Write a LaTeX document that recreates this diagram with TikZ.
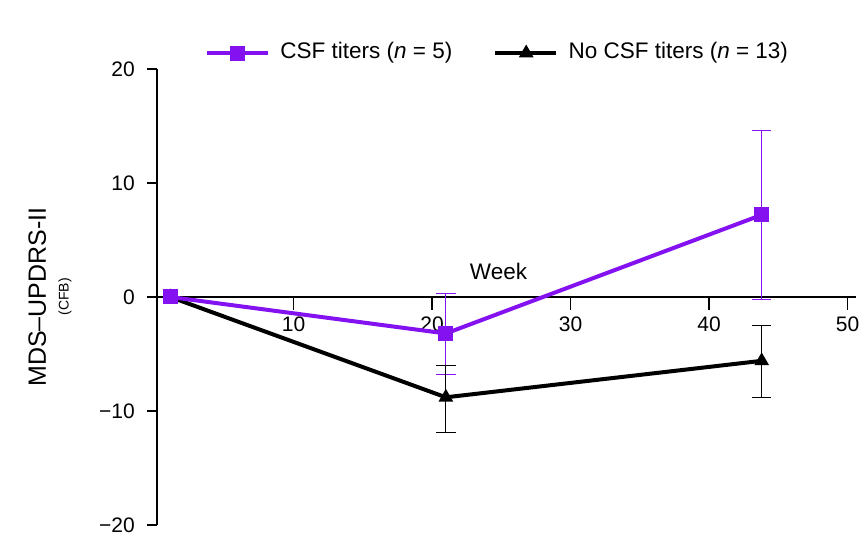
\documentclass[tikz,border=0pt]{standalone}
\usepackage{fontspec}
\setmainfont{Liberation Sans}
\begin{document}
\begin{tikzpicture}[x=13.85pt,y=11.4pt,
  ax/.style={line width=1.2pt,black},
  lbl/.style={font=\fontsize{21}{24}\selectfont},
  lgd/.style={font=\fontsize{22.5}{26}\selectfont},
  purp/.style={draw={rgb,255:red,132;green,18;blue,240}},
  serP/.style={purp,line width=4pt},
  serB/.style={black,line width=4pt},
  eb/.style={line width=1pt},
  sq/.style={rectangle,fill={rgb,255:red,132;green,18;blue,240},minimum size=15pt,inner sep=0pt},
  tri/.style={regular polygon,regular polygon sides=3,fill=black,minimum size=17pt,inner sep=0pt}]
\usetikzlibrary{shapes.geometric}
\useasboundingbox (-11.19,-21.49) rectangle (50.9,26.05);
% axes
\draw[ax] (0.14,20) -- (0.14,-20);
\foreach \v in {20,10,0,-10,-20}{
  \draw[ax] (0.14,\v) -- ++(-0.7,0);
  \node[lbl,anchor=east] at (-1.2,\v) {\ifnum\v<0 −\the\numexpr-\v\relax\else\v\fi};}
\draw[ax] (0.14,0) -- (50.6,0);
\foreach \u in {10,20,30,40,50}{
  \draw[ax] (\u,0) -- ++(0,-1.1);
  \node[lbl,anchor=north] at (\u,-1.4) {\u};}
\node[lgd] (wk) at (24.8,2.2) {Week};
\node[font=\fontsize{25}{28}\selectfont,rotate=90] (yl) at (-8.5,0) {MDS–UPDRS-II};
\node[font=\fontsize{14}{16}\selectfont,rotate=90] (yl2) at (-6.5,0) {(CFB)};
% error bars
\definecolor{pp}{RGB}{132,18,240}
\draw[eb,pp] (21,0.3) -- (21,-6.8) (20.3,0.3)--(21.7,0.3) (20.3,-6.8)--(21.7,-6.8);
\draw[eb,pp] (43.8,14.6) -- (43.8,-0.2) (43.1,14.6)--(44.5,14.6) (43.1,-0.2)--(44.5,-0.2);
\draw[eb] (21,-6.0) -- (21,-11.9) (20.3,-6)--(21.7,-6) (20.3,-11.9)--(21.7,-11.9);
\draw[eb] (43.8,-2.5) -- (43.8,-8.8) (43.1,-2.5)--(44.5,-2.5) (43.1,-8.8)--(44.5,-8.8);
% series
\draw[serB] (1.1,0) -- (21,-8.8) -- (43.8,-5.6);
\draw[serP] (1.1,0) -- (21,-3.2) -- (43.8,7.2);
\node[tri] (b1) at (1.1,0) {};
\node[tri] (b2) at (21,-8.8) {};
\node[tri] (b3) at (43.8,-5.6) {};
\node[sq] (p1) at (1.1,0) {};
\node[sq] (p2) at (21,-3.2) {};
\node[sq] (p3) at (43.8,7.2) {};
% legend
\coordinate (la) at (3.75,21.4); \coordinate (lb) at (8.15,21.4);
\draw[serP] (la) -- (lb);
\node[sq] (ls) at (5.95,21.4) {};
\node[lgd,anchor=west] (lt1) at (8.8,21.4) {CSF titers (\textit{n} = 5)};
\coordinate (lc) at (24.55,21.4); \coordinate (ld) at (28.95,21.4);
\draw[serB] (lc) -- (ld);
\node[tri] (lr) at (26.8,21.4) {};
\node[lgd,anchor=west] (lt2) at (29.6,21.4) {No CSF titers (\textit{n} = 13)};
\end{tikzpicture}
\end{document}
